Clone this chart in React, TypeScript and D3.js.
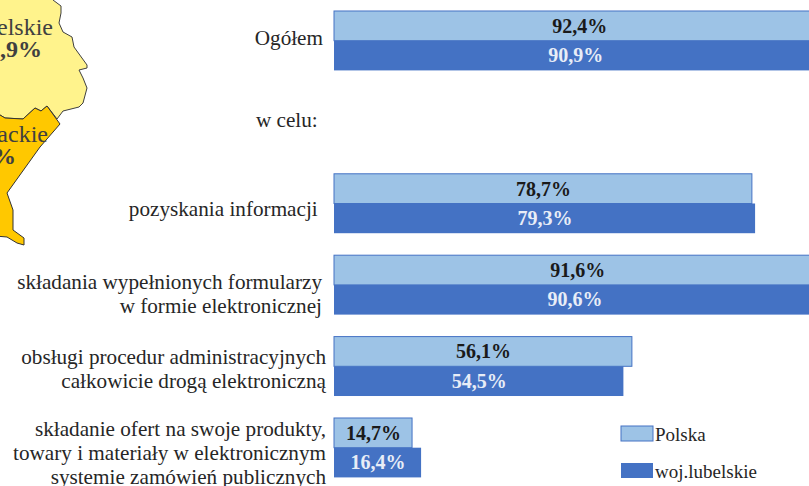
import { useEffect, useRef } from 'react';
import * as d3 from 'd3';

const categories = ['Ogółem', 'w celu:', 'pozyskania informacji', 'formularze', 'procedury', 'oferty'];
const polska = [92.4, null, 78.7, 91.6, 56.1, 14.7];
const lubelskie = [90.9, null, 79.3, 90.6, 54.5, 16.4];
const seriesNames = ['Polska', 'woj.lubelskie'];
const categoryLines = [
  ['Ogółem'],
  ['w celu: '],
  ['pozyskania informacji '],
  ['składania wypełnionych formularzy', 'w formie elektronicznej'],
  ['obsługi procedur administracyjnych', 'całkowicie drogą elektroniczną'],
  ['składanie ofert na swoje produkty,', 'towary i materiały w elektronicznym', 'systemie zamówień publicznych'],
];
const labelRight = [323, 323, 323, 322, 326, 326];
const labelFirstBaseline = [45, 127, 216, 289, 364, 436];

// fragment of the voivodeship map in the top left corner
const lubelskieOutline: [number, number][] = [
  [-5, -5], [53, -5], [53, 0], [61, 6], [61, 13], [59, 23], [63, 32], [72, 37], [74, 47], [87, 65], [87, 68], [79, 70],
  [83, 78], [87, 88], [83, 103], [79, 107], [63, 111], [57, 119], [47, 106], [41, 111], [35, 108], [23, 119], [5, 118], [-5, 112],
];
const podkarpackieOutline: [number, number][] = [
  [-5, 112], [5, 118], [23, 119], [35, 108], [41, 111], [47, 106], [60, 124], [40, 147], [7, 193], [13, 210], [13, 230],
  [24, 238], [24, 245], [17, 243], [7, 237], [-5, 236],
];

const SERIF = '"Liberation Serif", "Times New Roman", serif';
const COLORS = ['#9dc3e6', '#4472c4'];

export default function App() {
  const svgRef = useRef<SVGSVGElement>(null);

  useEffect(() => {
    if (!svgRef.current) return;
    const svg = d3.select(svgRef.current);
    svg.selectAll('*').remove();

    const xScale = d3.scaleLinear().domain([0, 100]).range([334, 865]);
    const yScale = d3.scaleBand<string>().domain(categories).range([0, 488.4]).paddingInner(0.27).paddingOuter(0.135);
    const rowH = yScale.bandwidth() / 2;

    // Map
    const outline = d3.line();
    svg.append('path').attr('d', outline(lubelskieOutline) + 'Z')
      .attr('fill', '#fff38c').attr('stroke', '#404040').attr('stroke-width', 1);
    svg.append('path').attr('d', outline(podkarpackieOutline) + 'Z')
      .attr('fill', '#ffc800').attr('stroke', '#333333').attr('stroke-width', 1);

    const mapText = [
      { t: 'lubelskie', x: 53, y: 35, w: 400 },
      { t: '90,9%', x: 42, y: 57, w: 700 },
      { t: 'podkarpackie', x: 48, y: 142, w: 400 },
      { t: '89,9%', x: 16, y: 164, w: 700 },
    ];
    mapText.forEach(d => {
      svg.append('text').attr('x', d.x).attr('y', d.y).attr('text-anchor', 'end')
        .attr('font-family', SERIF).attr('font-size', 24).attr('font-weight', d.w)
        .attr('fill', '#404040').text(d.t);
    });

    // Bars
    categories.forEach((c, i) => {
      const y0 = yScale(c)!;
      const a = polska[i];
      const b = lubelskie[i];
      if (a != null) {
        svg.append('rect').attr('x', xScale(0)).attr('y', y0).attr('width', xScale(a) - xScale(0)).attr('height', rowH)
          .attr('fill', COLORS[0]).attr('stroke', COLORS[1]).attr('stroke-width', 1);
        svg.append('text').attr('x', (xScale(0) + Math.min(xScale(a), 826)) / 2 + 0.5).attr('y', y0 + rowH / 2 + 7)
          .attr('text-anchor', 'middle').attr('font-family', SERIF).attr('font-size', 20).attr('font-weight', 700)
          .attr('fill', '#1a1a1a').text(`${a.toFixed(1).replace('.', ',')}%`);
      }
      if (b != null) {
        svg.append('rect').attr('x', xScale(0)).attr('y', y0 + rowH).attr('width', xScale(b) - xScale(0)).attr('height', rowH)
          .attr('fill', COLORS[1]);
        svg.append('text').attr('x', (xScale(0) + Math.min(xScale(b), 826)) / 2 + 0.5).attr('y', y0 + rowH * 1.5 + 6.5)
          .attr('text-anchor', 'middle').attr('font-family', SERIF).attr('font-size', 20).attr('font-weight', 700)
          .attr('fill', '#e8edf7').text(`${b.toFixed(1).replace('.', ',')}%`);
      }
    });

    // Category labels
    categories.forEach((c, i) => {
      categoryLines[i].forEach((l, j) => {
        svg.append('text').attr('x', labelRight[i]).attr('y', labelFirstBaseline[i] + j * 24)
          .attr('text-anchor', 'end').attr('font-family', SERIF).attr('font-size', 21.2)
          .attr('fill', '#262626').style('white-space', 'pre').text(l);
      });
    });

    // Legend
    seriesNames.forEach((n, i) => {
      const y = 426 + i * 37;
      svg.append('rect').attr('x', 621).attr('y', y).attr('width', 32).attr('height', 15)
        .attr('fill', COLORS[i]).attr('stroke', i === 0 ? COLORS[1] : 'none');
      svg.append('text').attr('x', 655).attr('y', y + 14.5).attr('font-family', SERIF).attr('font-size', 19)
        .attr('fill', '#262626').text(n);
    });
  }, []);

  return <svg ref={svgRef} width={809} height={486} style={{ position: 'absolute', left: 0, top: 0, display: 'block' }} />;
}
